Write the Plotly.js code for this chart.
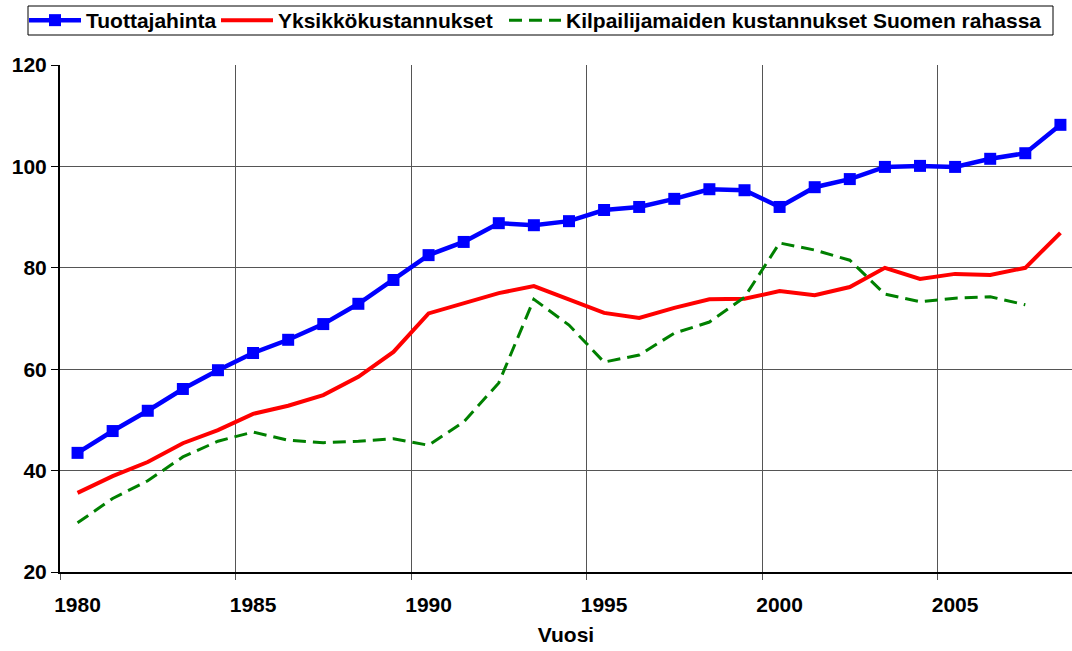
<!DOCTYPE html>
<html>
<head>
<meta charset="utf-8">
<script src="https://cdn.plot.ly/plotly-3.0.1.min.js"></script>
<style>html,body{margin:0;padding:0;background:#fff}#chart{width:1072px;height:651px}</style>
</head>
<body>
<div id="chart"></div>
<script>
var years = [1980,1981,1982,1983,1984,1985,1986,1987,1988,1989,1990,1991,1992,1993,1994,1995,1996,1997,1998,1999,2000,2001,2002,2003,2004,2005,2006,2007,2008];
var tuottajahinta = [43.5,47.8,51.8,56.1,59.8,63.2,65.8,68.9,72.9,77.6,82.5,85.1,88.8,88.4,89.2,91.4,92.0,93.6,95.5,95.3,92.0,95.9,97.5,99.9,100.1,99.9,101.5,102.6,108.2];
var yksikkokustannukset = [35.6,38.9,41.7,45.4,48.0,51.2,52.8,54.9,58.5,63.4,71.0,73.1,75.0,76.4,73.7,71.1,70.1,72.1,73.8,73.9,75.4,74.6,76.2,80.0,77.8,78.8,78.6,80.0,86.9];
var kilpailijamaat = [29.7,34.5,38.0,42.7,45.8,47.6,46.0,45.5,45.8,46.3,45.0,49.6,57.3,73.8,68.7,61.4,62.8,67.1,69.3,74.2,84.9,83.5,81.5,74.8,73.3,74.0,74.3,72.7,null];
var seriesNames = ["Tuottajahinta","Yksikkökustannukset","Kilpailijamaiden kustannukset Suomen rahassa"];
var xTickVals = [1980,1985,1990,1995,2000,2005];
var xTickText = ["1980","1985","1990","1995","2000","2005"];
var yTickVals = [20,40,60,80,100,120];
var xTitle = "Vuosi";

var FONT = "'Liberation Sans', Arial, Helvetica, sans-serif";
var xRange = [1979.5, 2008.33];
var gridVals = xTickVals.map(function(v){return v-0.5;});

var traces = [
  {x: years, y: tuottajahinta, name: seriesNames[0], type: 'scatter', mode: 'lines+markers', legend: 'legend',
   line: {color: '#0000FF', width: 4.5}, marker: {symbol: 'square', size: 12, color: '#0000FF'}},
  {x: years, y: yksikkokustannukset, name: seriesNames[1], type: 'scatter', mode: 'lines', legend: 'legend2',
   line: {color: '#FF0000', width: 4}},
  {x: years, y: kilpailijamaat, name: seriesNames[2], type: 'scatter', mode: 'lines', legend: 'legend3',
   line: {color: '#008000', width: 3, dash: '13px,7px'}},
  {x: [xRange[0]], y: [null], xaxis: 'x2', showlegend: false, hoverinfo: 'skip', type: 'scatter', mode: 'lines'}
];

function px2paper(px){ return (px - 60) / 1012; }
var legFont = {family: FONT, size: 21, color: '#000', weight: 'bold'};
var legY = (572 - 20.5) / 507;
function leg(px){
  return {orientation: 'h', x: px2paper(px), xanchor: 'left', y: legY, yanchor: 'middle',
          borderwidth: 0, bgcolor: 'rgba(0,0,0,0)', font: legFont, itemwidth: 52};
}

var layout = {
  width: 1072, height: 651,
  margin: {l: 60, r: 0, t: 65, b: 79},
  paper_bgcolor: '#fff', plot_bgcolor: '#fff',
  font: {family: FONT, size: 21, color: '#000'},
  showlegend: true,
  legend: leg(24),
  legend2: leg(216),
  legend3: leg(504),
  shapes: [{type: 'rect', xref: 'paper', yref: 'paper', x0: px2paper(28), x1: px2paper(1053),
            y0: (572 - 35) / 507, y1: (572 - 6) / 507, line: {color: '#000', width: 1}, layer: 'below'}],
  xaxis: {range: xRange, tickvals: xTickVals, ticktext: xTickText, showgrid: false, zeroline: false,
          ticks: '', showline: false, ticklabelstandoff: 18, tickfont: {family: FONT, size: 21, weight: 'bold'},
          title: {text: xTitle, font: {family: FONT, size: 21, weight: 'bold'}, standoff: 12}},
  xaxis2: {range: xRange, overlaying: 'x', side: 'bottom', tickvals: gridVals, showticklabels: false,
           showgrid: true, gridcolor: '#555', gridwidth: 1, ticks: 'outside', ticklen: 6, tickcolor: '#555',
           showline: true, linecolor: '#000', linewidth: 2, zeroline: false},
  yaxis: {range: [20, 120], tickvals: yTickVals, showgrid: true, gridcolor: '#555', gridwidth: 1,
          zeroline: false, showline: true, linecolor: '#000', linewidth: 2, ticks: 'outside', ticklen: 7,
          tickcolor: '#000', tickfont: {family: FONT, size: 21, weight: 'bold'}}
};

Plotly.newPlot('chart', traces, layout, {displayModeBar: false, staticPlot: true});
</script>
</body>
</html>
